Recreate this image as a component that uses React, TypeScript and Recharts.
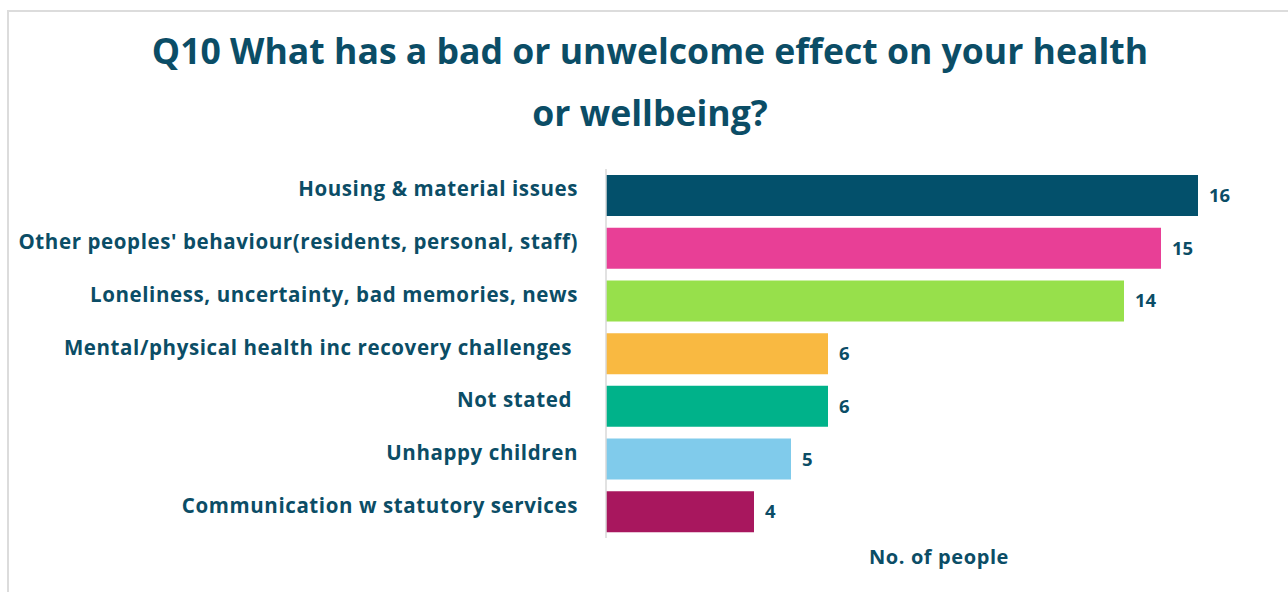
import { BarChart, Bar, XAxis, YAxis, Cell, LabelList } from "recharts";

const categories = [
  "Housing & material issues",
  "Other peoples' behaviour(residents, personal, staff)",
  "Loneliness, uncertainty, bad memories, news",
  "Mental/physical health inc recovery challenges ",
  "Not stated ",
  "Unhappy children",
  "Communication w statutory services",
];
const counts = [16, 15, 14, 6, 6, 5, 4];
const barColors = ["#03506b", "#e83f96", "#97e04b", "#f9b941", "#00b28a", "#80cbeb", "#a8175e"];

const titleLines = ["Q10 What has a bad or unwelcome effect on your health", "or wellbeing?"];
const xAxisTitle = "No. of people";

const TEXT = "#0b4d66";
const FONT = "'Open Sans', sans-serif";

const chartData = categories.map((name, i) => ({ name, value: counts[i] }));

function CategoryTick({ x, y, payload }: any) {
  return (
    <text
      x={x}
      y={y}
      dy={1}
      textAnchor="end"
      xmlSpace="preserve"
      fill={TEXT}
      fontFamily={FONT}
      fontWeight={700}
      fontSize={20.5}
      letterSpacing={0.6}
    >
      {payload.value}
    </text>
  );
}

export default function App() {
  return (
    <div style={{ position: "absolute", left: 0, top: 0, width: 1288, height: 592, background: "#fff" }}>
      <div
        style={{
          position: "absolute",
          left: 7,
          top: 10,
          width: 1300,
          height: 600,
          border: "2px solid #dcdcdc",
          boxSizing: "border-box",
        }}
      />
      {titleLines.map((line, i) => (
        <div
          key={i}
          style={{
            position: "absolute",
            left: 100,
            width: 1100,
            top: 26 + i * 62,
            textAlign: "center",
            fontFamily: FONT,
            fontWeight: 700,
            fontSize: 35.6,
            lineHeight: "48px",
            color: TEXT,
            whiteSpace: "nowrap",
          }}
        >
          {line}
        </div>
      ))}
      <div style={{ position: "absolute", left: 0, top: 0 }}>
        <BarChart
          width={1288}
          height={592}
          data={chartData}
          layout="vertical"
          margin={{ top: 169, right: 16, bottom: 16, left: 20 }}
          barSize={41}
        >
          <XAxis
            type="number"
            domain={[0, 18]}
            axisLine={false}
            tickLine={false}
            tick={false}
            height={38}
            label={{
              value: xAxisTitle,
              position: "center",
              fill: TEXT,
              fontFamily: FONT,
              fontWeight: 700,
              fontSize: 20,
              letterSpacing: 0.6,
            }}
          />
          <YAxis
            type="category"
            dataKey="name"
            width={586}
            axisLine={{ stroke: "#d9d9d9", strokeWidth: 1.5 }}
            tickLine={false}
            tickSize={0}
            tickMargin={28}
            tick={<CategoryTick />}
            interval={0}
          />
          <Bar dataKey="value" isAnimationActive={false}>
            {chartData.map((d, i) => (
              <Cell key={d.name} fill={barColors[i]} />
            ))}
            <LabelList
              dataKey="value"
              position="right"
              offset={11}
              fill={TEXT}
              fontFamily={FONT}
              fontWeight={700}
              fontSize={18.5}
            />
          </Bar>
        </BarChart>
      </div>
    </div>
  );
}
